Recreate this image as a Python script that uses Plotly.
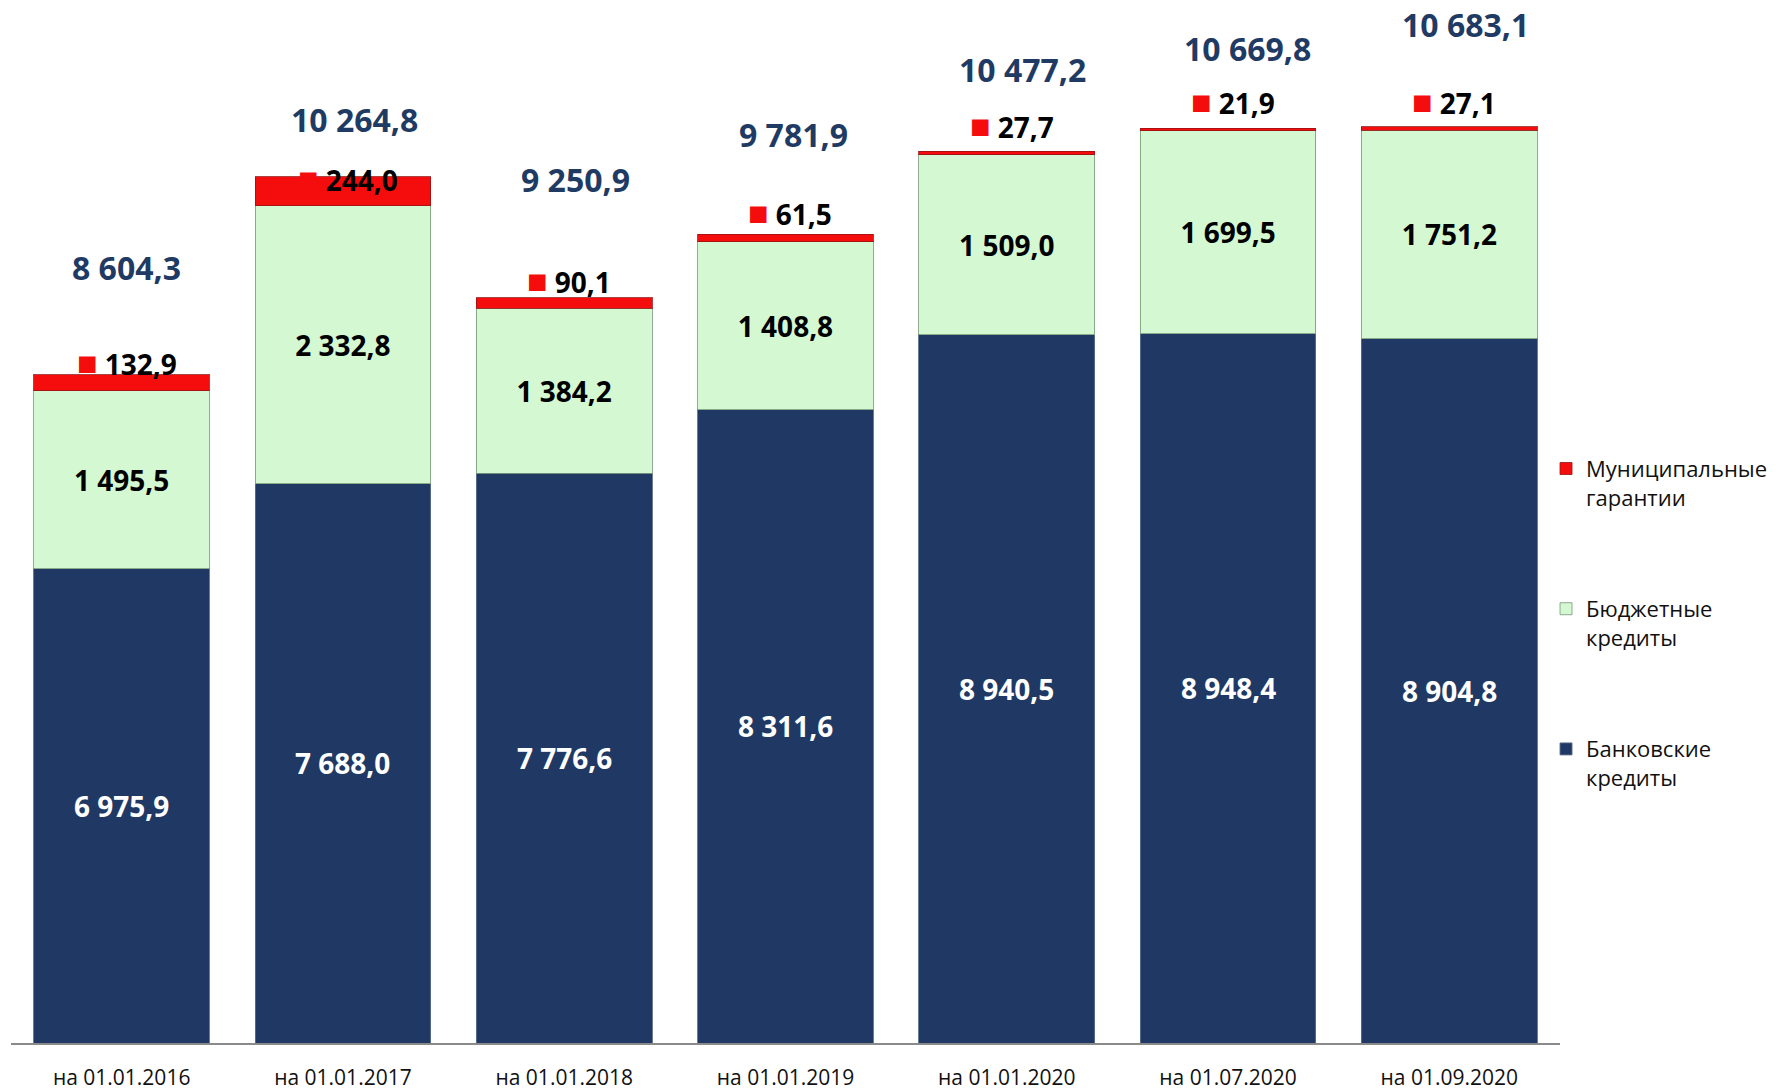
import plotly.graph_objects as go

categories = ["на 01.01.2016", "на 01.01.2017", "на 01.01.2018", "на 01.01.2019",
              "на 01.01.2020", "на 01.07.2020", "на 01.09.2020"]
bank_credits = [6975.9, 7688.0, 7776.6, 8311.6, 8940.5, 8948.4, 8904.8]
budget_credits = [1495.5, 2332.8, 1384.2, 1408.8, 1509.0, 1699.5, 1751.2]
municipal_guarantees = [132.9, 244.0, 90.1, 61.5, 27.7, 21.9, 27.1]
totals = [8604.3, 10264.8, 9250.9, 9781.9, 10477.2, 10669.8, 10683.1]

series_names = ["Банковские<br>кредиты", "Бюджетные<br>кредиты", "Муниципальные<br>гарантии"]

# label placement (pixel shifts above bar tops), style only
muni_label_shift = [13, -1, 18, 22, 26, 27, 26]
total_label_shift = [107, 57, 118, 100, 82, 80, 102]
total_label_xshift = [5, 12, 11, 8, 16, 19, 16]

Y_MIN, Y_MAX = 3000, 11000

FONT = "Open Sans"
NAVY = "#1f3964"
GREEN = "#d4f8d1"
RED = "#f50d0d"
TOTAL_COLOR = "#1f3b64"


def fmt(v):
    s = f"{v:,.1f}"
    return s.replace(",", " ").replace(".", ",")


fig = go.Figure()
fig.add_trace(go.Bar(
    x=categories, y=bank_credits, name=series_names[0], legendgroup="a", legendrank=3,
    marker=dict(color=NAVY, line=dict(color="rgba(90,110,140,0.9)", width=1)),
    textposition="none", cliponaxis=False,
))
fig.add_trace(go.Bar(
    x=categories, y=budget_credits, name=series_names[1], legendgroup="b", legendrank=2,
    marker=dict(color=GREEN, line=dict(color="rgba(120,150,120,0.8)", width=1)),
    texttemplate="%{y:,.1f}", textposition="inside", insidetextanchor="middle",
    textfont=dict(family=FONT, size=28, color="black", weight="bold"),
    textangle=0, cliponaxis=False,
))
fig.add_trace(go.Bar(
    x=categories, y=municipal_guarantees, name=series_names[2], legendgroup="c", legendrank=1,
    marker=dict(color=RED, line=dict(color="rgba(150,20,20,0.8)", width=1)),
    textposition="none", cliponaxis=False,
))

annotations = []
for i, cat in enumerate(categories):
    # bank credit label at the middle of the visible part of the bar
    annotations.append(dict(
        x=cat, y=(max(Y_MIN, 0) + bank_credits[i]) / 2, xref="x", yref="y", showarrow=False,
        text=fmt(bank_credits[i]),
        font=dict(family=FONT, size=28, color="white", weight="bold"),
        yanchor="middle",
    ))
    annotations.append(dict(
        x=cat, y=totals[i], xref="x", yref="y", showarrow=False,
        text=f"<span style='color:{RED};font-size:34px'>■</span> {fmt(municipal_guarantees[i])}",
        font=dict(family=FONT, size=28, color="black", weight="bold"),
        yanchor="middle", yshift=muni_label_shift[i], xshift=5,
    ))
    annotations.append(dict(
        x=cat, y=totals[i], xref="x", yref="y", showarrow=False,
        text=fmt(totals[i]),
        font=dict(family=FONT, size=32, color=TOTAL_COLOR, weight="bold"),
        yanchor="middle", yshift=total_label_shift[i], xshift=total_label_xshift[i],
    ))

fig.update_layout(
    width=1776, height=1090,
    barmode="stack", bargap=0.206,
    separators=", ",
    plot_bgcolor="white", paper_bgcolor="white",
    margin=dict(l=11, r=0, t=89, b=47, autoexpand=False),
    font=dict(family=FONT, color="black"),
    annotations=annotations,
    legend=dict(
        traceorder="grouped", x=0.8697, xanchor="left", y=0.624, yanchor="top",
        font=dict(family=FONT, size=22, color="#111"), tracegroupgap=80,
        valign="top", bgcolor="rgba(0,0,0,0)",
    ),
    showlegend=True,
)
fig.update_xaxes(
    domain=[0, 0.8776], automargin=False,
    showline=True, linecolor="#8a8a8a", linewidth=1.5,
    ticks="outside", ticklen=15, tickcolor="rgba(0,0,0,0)",
    tickfont=dict(family=FONT, size=21, color="#111"),
    range=[-0.5, 6.5], showgrid=False,
)
fig.update_yaxes(range=[Y_MIN, Y_MAX], visible=False, showgrid=False, automargin=False)

fig.write_html("out.html", config={"displayModeBar": False},
               post_script="document.body.style.margin='0';")
